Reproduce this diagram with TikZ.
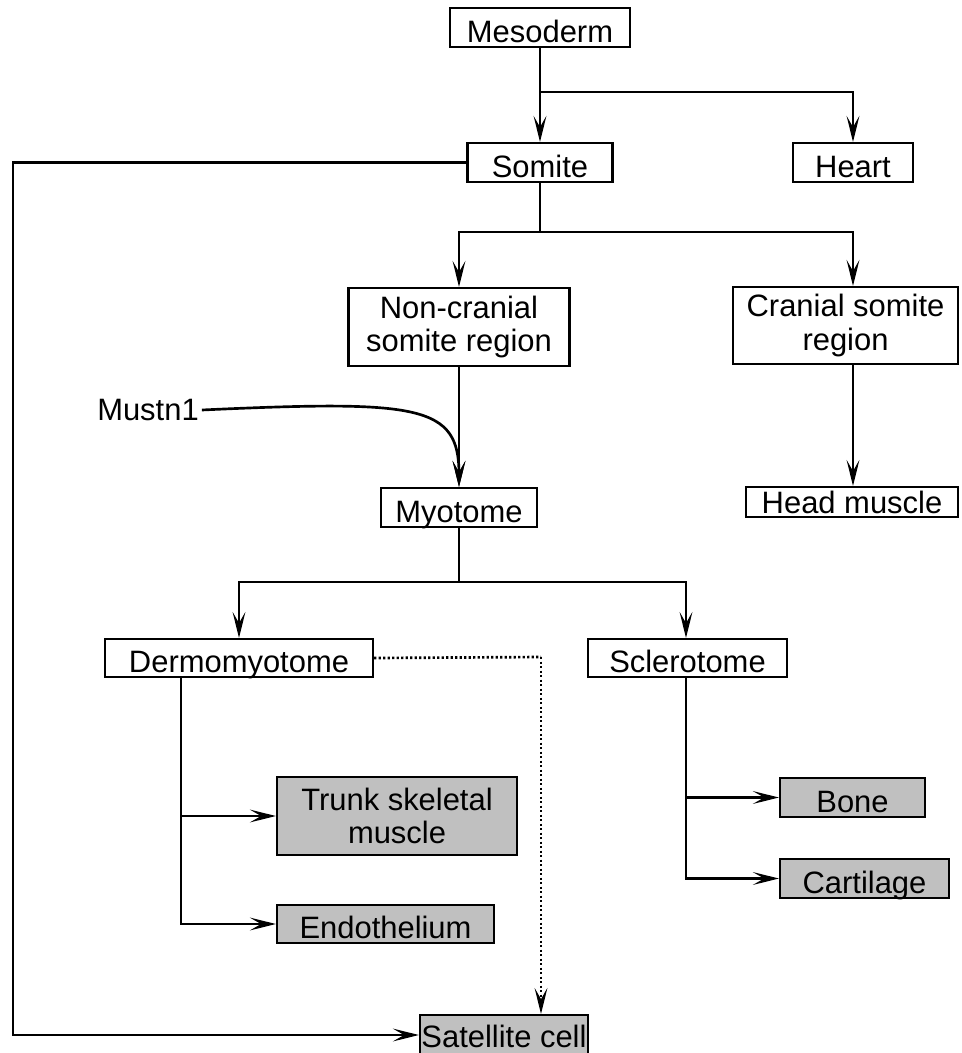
\documentclass[tikz,border=0pt]{standalone}
\usepackage{fontspec}
\setmainfont{Liberation Sans}
\usepackage{xcolor}
\usepackage{tikz}
\usetikzlibrary{positioning,calc,arrows.meta}
\definecolor{cellgray}{RGB}{192,192,192}

\begin{document}
\begin{tikzpicture}[x=0.025cm, y=-0.025cm,
    box/.style={draw, line width=1.5pt, fill=white, inner sep=0pt, align=center,
        font=\fontsize{22}{24}\selectfont},
    one/.style={text height=21pt, text depth=0pt},
    cell/.style={box, fill=cellgray},
    lbl/.style={inner sep=2pt, font=\fontsize{22}{24}\selectfont},
    arr/.style={line width=1.9pt, -{Stealth[length=6.5mm, width=3.2mm, inset=2.8mm]}},
    link/.style={line width=1.9pt}]
    \useasboundingbox (0,0) rectangle (961,1053);

    % Top
    \node[box, one, minimum width=4.5cm, minimum height=0.975cm] (meso) at (540,27.5) {Mesoderm};
    \node[box, one, minimum width=3.625cm, minimum height=0.975cm] (somite) at (540,162.5) {Somite};
    \node[box, one, minimum width=3cm, minimum height=0.975cm] (heart) at (853,162.5) {Heart};
    \node[box, minimum width=5.525cm, minimum height=1.95cm] (noncran) at (459,327) {Non-cranial\\somite region};
    \node[box, minimum width=5.625cm, minimum height=1.925cm] (cran) at (845.5,325.5) {Cranial somite\\region};
    \node[box, text height=16pt, text depth=0pt, minimum width=5.3cm, minimum height=0.75cm] (head) at (852,502) {Head muscle};
    \node[lbl] (mustn) at (148,410) {Mustn1};
    \node[box, one, minimum width=3.9cm, minimum height=0.975cm] (myo) at (459,507.5) {Myotome};

    % Middle
    \node[box, one, minimum width=6.7cm, minimum height=0.95cm] (dermo) at (239,658) {Dermomyotome};
    \node[box, one, minimum width=4.975cm, minimum height=0.95cm] (sclero) at (687.5,658) {Sclerotome};

    % Cell types
    \node[cell, minimum width=6cm, minimum height=1.95cm] (trunk) at (397,816) {Trunk skeletal\\muscle};
    \node[cell, one, minimum width=5.425cm, minimum height=0.95cm] (endo) at (385.5,924) {Endothelium};
    \node[cell, one, minimum width=3.625cm, minimum height=0.975cm] (bone) at (852.5,797.5) {Bone};
    \node[cell, one, minimum width=4.225cm, minimum height=0.975cm] (cart) at (864.5,878.5) {Cartilage};
    \node[cell, text height=18pt, text depth=0pt, minimum width=4.2cm, minimum height=1cm] (sat) at (504,1035) {Satellite cell};

    % Junctions
    \coordinate (jmeso) at (540,92);
    \coordinate (jsom) at (540,232);
    \coordinate (jmyo) at (459,582);
    \coordinate (dbar) at (181,677);
    \coordinate (sbar) at (686,677);
    \coordinate (far) at (13,1035);
    \coordinate (dot) at (541,657);

    % Connectors
    \draw[arr] (meso) -- (somite);
    \draw[arr] (jmeso) -| (heart.north);
    \draw[link] (somite.south) -- (jsom);
    \draw[arr] (jsom) -| (noncran.north);
    \draw[arr] (jsom) -| (cran.north -| heart.north);
    \draw[arr] (cran.south -| heart.north) -- (head.north -| heart.north);
    \draw[arr] (noncran) -- (myo);
    \draw[arr] (mustn.east) .. controls (420,400) and (459,405) .. (myo.north);
    \draw[link] (myo.south) -- (jmyo);
    \draw[arr] (jmyo) -| (dermo.north);
    \draw[arr] (jmyo) -| (sclero.north -| sbar);
    \draw[arr] (dbar) |- (endo.west);
    \draw[arr] (dbar |- trunk.west) -- (trunk.west);
    \draw[arr] (sbar) |- (cart.west);
    \draw[arr] (sbar |- bone.west) -- (bone.west);
    \draw[link, dash pattern=on 1.6pt off 1.6pt] (dermo.east) -- (dot);
    \draw[arr, dash pattern=on 1.6pt off 1.6pt] (dot) -- (dot |- sat.north);
    \draw[arr] (somite.west) -| (far) -- (sat.west);
\end{tikzpicture}
\end{document}
